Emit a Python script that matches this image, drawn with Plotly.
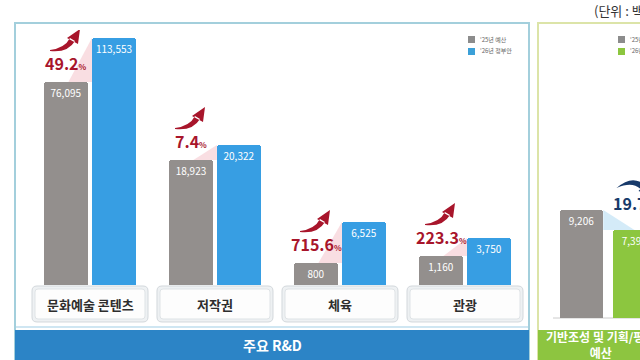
import numpy as np
import plotly.graph_objects as go

# ---------------- data ----------------
categories = ['문화예술 콘텐츠', '저작권', '체육', '관광']
budget_2025 = [76095, 18923, 800, 1160]          # '25년 예산
proposal_2026 = [113553, 20322, 6525, 3750]      # '26년 정부안
base_label = '기반조성 및 기획/평가<br>예산'
base_2025 = 9206
base_2026 = 7392
series_names = ["'25년 예산", "'26년 정부안"]
panel_title = '주요 R&D'
unit_text = '(단위 : 백만원)'

# per-panel log axis ranges (layout choice, log10 units)
y_ranges = [(4.079, 5.087), (4.0187, 4.5456), (2.4142, 8.081), (2.2437, 9.462)]
y_range_base = (3.4496, 4.8216)

W, H = 640, 360
FONT = 'Noto Sans CJK KR'
GRAY = '#938f8d'
BLUE = '#379ee3'
GREEN = '#8cc63f'
RED = '#a8152b'
NAVY = '#173a6a'


def X(px):
    return px / W


def Y(py):
    return 1 - py / H


def rrect(x0, y0, x1, y1, r):
    def p(x, y):
        return f"{X(x):.5f},{Y(y):.5f}"
    return (f"M {p(x0 + r, y0)} L {p(x1 - r, y0)} Q {p(x1, y0)} {p(x1, y0 + r)} "
            f"L {p(x1, y1 - r)} Q {p(x1, y1)} {p(x1 - r, y1)} L {p(x0 + r, y1)} "
            f"Q {p(x0, y1)} {p(x0, y1 - r)} L {p(x0, y0 + r)} Q {p(x0, y0)} {p(x0 + r, y0)} Z")


def txt(x, y, text, size, color, xanchor='center', align='center'):
    return dict(xref='paper', yref='paper', x=X(x), y=Y(y), xanchor=xanchor, yanchor='middle',
                text=text, showarrow=False, align=align, font=dict(family=FONT, size=size, color=color))


fig = go.Figure()
shapes = []
annotations = []
layout_axes = {}

# ----- panels background -----
shapes.append(dict(type='rect', xref='paper', yref='paper', x0=X(15), x1=X(529), y0=Y(362), y1=Y(23),
                   line=dict(color='#a3cfdc', width=2), fillcolor='white', layer='below'))
shapes.append(dict(type='rect', xref='paper', yref='paper', x0=X(15), x1=X(529), y0=Y(360), y1=Y(330),
                   line=dict(width=0), fillcolor='#2c84c6', layer='below'))
shapes.append(dict(type='line', xref='paper', yref='paper', x0=X(16), x1=X(528), y0=Y(327), y1=Y(327),
                   line=dict(color='#cfe6f2', width=2), layer='below'))
shapes.append(dict(type='rect', xref='paper', yref='paper', x0=X(538), x1=X(650), y0=Y(362), y1=Y(23),
                   line=dict(color='#dce4a8', width=2), fillcolor='white', layer='below'))
shapes.append(dict(type='rect', xref='paper', yref='paper', x0=X(538), x1=X(650), y0=Y(360), y1=Y(330),
                   line=dict(width=0), fillcolor='#8dc540', layer='below'))
shapes.append(dict(type='line', xref='paper', yref='paper', x0=X(553), x1=X(645), y0=Y(318), y1=Y(318),
                   line=dict(color='#cccccc', width=1), layer='below'))

annotations.append(txt(272, 345, f'<b>{panel_title}</b>', 14, 'white'))
annotations.append(txt(600, 344, f'<b>{base_label}</b>', 12, 'white'))
annotations.append(txt(592, 10, unit_text, 13, '#333333', xanchor='left', align='left'))

# ----- legends -----
def legend(x, y0, colors):
    for i, (c, name) in enumerate(zip(colors, series_names)):
        yy = y0 + i * 12
        shapes.append(dict(type='rect', xref='paper', yref='paper', x0=X(x), x1=X(x + 7), y0=Y(yy + 4), y1=Y(yy - 3),
                           line=dict(width=0), fillcolor=c, layer='below'))
        annotations.append(txt(x + 10, yy, name, 6, '#666666', xanchor='left', align='left'))

legend(468, 39, ['#8c8c8c', '#3ba0d8'])
legend(618, 39, ['#8c8c8c', GREEN])

# ----- arrows (pixel paths relative to anchor, y up) -----
UP_ARROW = "M -16,31 Q 2,29 9,41 L 4,44 Q -1,34 -16,32 Z M 1,44 L 14,53 L 12,38 Z"
DOWN_ARROW = "M -18,42 Q -2,56 10,45 L 12,47 L 15,36 L 4,39 L 6,41 Q -2,49 -18,42 Z"


def add_panel(idx, xdom, ydom, vals, colors, yr, width, xr, pct_color, arrow_path, wedge_color, label_y_shift,
              up=True):
    ax = '' if idx == 1 else str(idx)
    xa, ya = f'x{ax}', f'y{ax}'
    fig.add_trace(go.Bar(
        x=[0, 1], y=vals, xaxis=xa, yaxis=ya, width=width,
        marker=dict(color=colors, line=dict(width=0)),
        text=[f'{v:,}' for v in vals], textposition='inside', insidetextanchor='end',
        textangle=0, constraintext='none',
        textfont=dict(family=FONT, size=10, color='white'),
        hovertext=series_names, showlegend=False))
    layout_axes[f'xaxis{ax}'] = dict(domain=[X(xdom[0]), min(1, X(xdom[1]))], range=list(xr), showgrid=False,
                                     zeroline=False, showticklabels=False, showline=False, anchor=ya)
    layout_axes[f'yaxis{ax}'] = dict(domain=[Y(ydom[0]), Y(ydom[1])], type='log', range=list(yr), showgrid=False,
                                     zeroline=False, showticklabels=False, showline=False, anchor=xa)
    a, b = vals
    pct = (b / a - 1) * 100
    anchor_x = 0 if up else 1
    anchor_v = a if up else b
    annotations.append(dict(xref=xa, yref=ya, x=anchor_x, y=np.log10(anchor_v), yshift=label_y_shift,
                            xanchor='center', yanchor='middle',
                            text=f"<b>{abs(pct):.1f}</b><span style='font-size:8px'><b>%</b></span>",
                            showarrow=False, font=dict(family=FONT, size=16, color=pct_color)))
    shapes.append(dict(type='path', xref=xa, yref=ya, xsizemode='pixel', ysizemode='pixel',
                       xanchor=anchor_x, yanchor=anchor_v, path=arrow_path,
                       fillcolor=pct_color, line=dict(width=0), layer='above'))
    half = width / 2
    if up:
        wedge = f"M 0.05,{a} L {1 - half},{b} L {1 - half},{a} Z"
    else:
        wedge = f"M {half},{a} L 1,{b} L {half},{b} Z"
    shapes.append(dict(type='path', xref=xa, yref=ya, path=wedge, fillcolor=wedge_color,
                       line=dict(width=0), layer='below'))


x_starts = [42, 167, 292, 417]
for i, cat in enumerate(categories):
    x0 = x_starts[i]
    add_panel(i + 1, (x0, x0 + 96), (285, 30), [budget_2025[i], proposal_2026[i]], [GRAY, BLUE],
              y_ranges[i], 0.92, (-0.5, 1.5), RED, UP_ARROW, 'rgba(238,160,172,0.35)', 19)
    # category label box
    shapes.append(dict(type='path', xref='paper', yref='paper', path=rrect(x0 - 10, 286, x0 + 106, 322, 5),
                       fillcolor='#eef1f3', line=dict(color='#d3d8dc', width=1), layer='below'))
    shapes.append(dict(type='path', xref='paper', yref='paper', path=rrect(x0 - 7, 289, x0 + 103, 319, 3),
                       fillcolor='#fdfdfd', line=dict(color='#dfe3e6', width=1), layer='below'))
    annotations.append(txt(x0 + 48, 304, f'<b>{cat}</b>', 13, '#2e2e2e'))

# right panel
add_panel(5, (560, 640), (318, 30), [base_2025, base_2026], [GRAY, GREEN], y_range_base, 0.82,
          (-0.406, 1.104), NAVY, DOWN_ARROW, 'rgba(160,210,240,0.45)', 27, up=False)

fig.update_layout(
    width=W, height=H, margin=dict(l=0, r=0, t=0, b=0),
    paper_bgcolor='white', plot_bgcolor='rgba(0,0,0,0)',
    barcornerradius=3, bargap=0,
    shapes=shapes, annotations=annotations, showlegend=False,
    font=dict(family=FONT),
    **layout_axes)

fig.write_html('out.html')
